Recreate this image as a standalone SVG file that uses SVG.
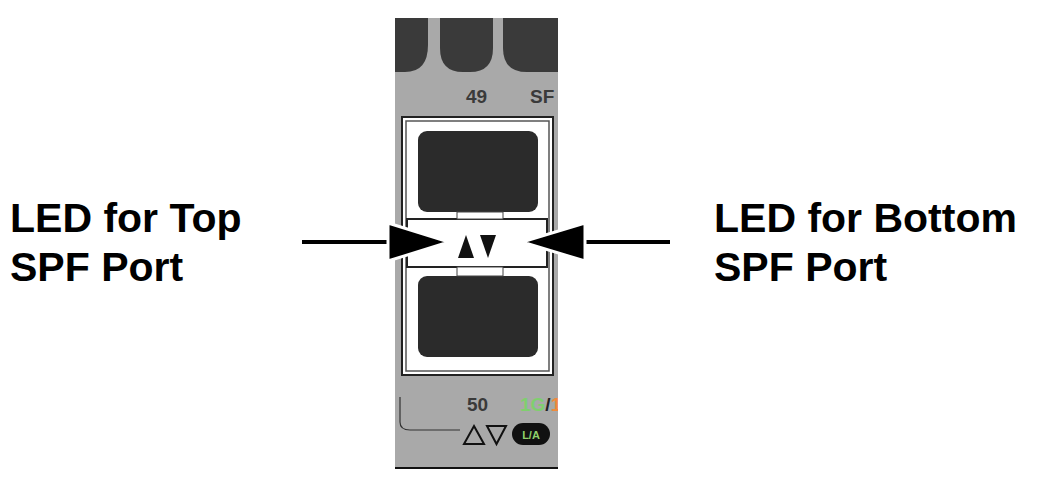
<svg xmlns="http://www.w3.org/2000/svg" width="1053" height="478" viewBox="0 0 1053 478">
<style>
.lbl{font-family:"Liberation Sans",Arial,sans-serif;font-weight:bold;font-size:41px;fill:#000}
.pn{font-family:"Liberation Sans",Arial,sans-serif;font-weight:bold;font-size:19px;fill:#3a3a3a}
.dark{fill:#2b2b2b}
</style>
<defs><clipPath id="pc"><rect x="395" y="18" width="163" height="452"/></clipPath></defs>
<rect width="1053" height="478" fill="#fff"/>
<g id="panel" clip-path="url(#pc)">
<rect x="395" y="18" width="163" height="450" fill="#a9a9a9"/>
<path d="M395 18 H428 V45 Q428 72 405 72 H395 Z" fill="#3a3a3a"/>
<path d="M440 18 H493 V48 Q493 72 470 72 H463 Q440 72 440 48 Z" fill="#3a3a3a"/>
<path d="M503 18 H558 V72 H527 Q503 72 503 48 Z" fill="#3a3a3a"/>
<text x="466" y="103" class="pn">49</text>
<text x="530" y="103" class="pn">SF</text>
<rect x="402" y="117" width="151" height="258" fill="#fff" stroke="#222" stroke-width="2"/>
<rect x="406" y="121" width="143" height="250" fill="none" stroke="#555" stroke-width="1.5"/>
<rect x="418" y="131" width="120" height="81" rx="9" class="dark"/>
<rect x="418" y="276" width="120" height="81" rx="9" class="dark"/>
<rect x="407" y="219" width="140" height="48" fill="#fff" stroke="#222" stroke-width="2"/>
<rect x="457" y="212" width="46" height="7" fill="#fff" stroke="#444" stroke-width="1"/>
<rect x="457" y="267" width="46" height="9" fill="#fff" stroke="#444" stroke-width="1"/>
<polygon points="466,235 474,258 458,258" fill="#111"/>
<polygon points="480,235 496,235 488,258" fill="#111"/>
<line x1="395" y1="468" x2="558" y2="468" stroke="#111" stroke-width="2"/>
<text x="467" y="411" class="pn">50</text>
<text x="520" y="411" class="pn"><tspan fill="#7fcf6f">1G</tspan><tspan fill="#222">/</tspan><tspan fill="#f08a3c">1</tspan></text>
<path d="M400 397 V422 Q400 430 410 430 H460" fill="none" stroke="#333" stroke-width="1.2"/>
<polygon points="474,426 484,444 464,444" fill="none" stroke="#111" stroke-width="2"/>
<polygon points="487,426 506,426 496.5,444" fill="none" stroke="#111" stroke-width="2"/>
<rect x="512" y="423" width="38" height="22" rx="11" fill="#111"/>
<text x="531" y="439" text-anchor="middle" font-family="Liberation Sans,Arial,sans-serif" font-weight="bold" font-size="11" fill="#8fd06a">L/A</text>
</g>
<g id="label-top"><text class="lbl" x="10" y="232">LED for Top</text><text class="lbl" x="10" y="281">SPF Port</text></g>
<g id="label-bottom"><text class="lbl" x="714" y="232">LED for Bottom</text><text class="lbl" x="714" y="281">SPF Port</text></g>
<g id="connectors">
<line x1="302" y1="242" x2="395" y2="242" stroke="#000" stroke-width="4"/>
<polygon points="388,223 449,242 388,261" fill="#000" stroke="#fff" stroke-width="3"/>
<line x1="580" y1="242" x2="670" y2="242" stroke="#000" stroke-width="4"/>
<polygon points="585,223 522,242 585,261" fill="#000" stroke="#fff" stroke-width="3"/>
</g>
</svg>
